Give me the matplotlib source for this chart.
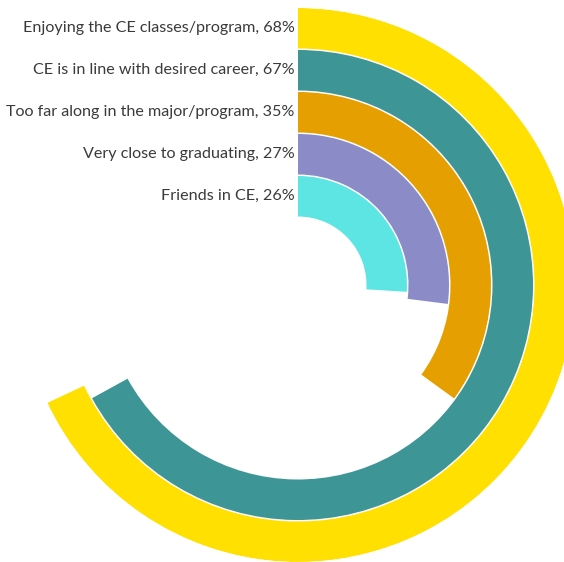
import matplotlib.pyplot as plt
import numpy as np

labels = [
    "Enjoying the CE classes/program",
    "CE is in line with desired career",
    "Too far along in the major/program",
    "Very close to graduating",
    "Friends in CE",
]
values = [68, 67, 35, 27, 26]
colors = ["#FFE000", "#3D9695", "#E5A000", "#8B8BC8", "#5CE5E3"]

W, H = 564, 562
cx, cy = 298, 277  # centre in pixels from bottom-left
r_out = 277
step = 42
ring = 40.5

fig = plt.figure(figsize=(W / 100, H / 100), dpi=100)
ax = fig.add_axes([(cx - r_out) / W, (cy - r_out) / H, 2 * r_out / W, 2 * r_out / H],
                  projection="polar")
ax.set_theta_zero_location("N")
ax.set_theta_direction(-1)
ax.set_ylim(0, r_out)
ax.axis("off")

for i, (lab, v, c) in enumerate(zip(labels, values, colors)):
    # outermost ring first
    r_mid = r_out - ring / 2 - i * step
    theta = v / 100 * 2 * np.pi
    ax.barh(r_mid, theta, height=ring, left=0, color=c, edgecolor="none")
    ax.annotate(f"{lab}, {v}%", xy=(0, r_mid), xytext=(-2.5, 0),
                textcoords="offset points", ha="right", va="center",
                fontsize=11.6, family="Lato", color="#3a3a3a",
                annotation_clip=False)

fig.savefig("out.png", dpi=100, facecolor="white")
